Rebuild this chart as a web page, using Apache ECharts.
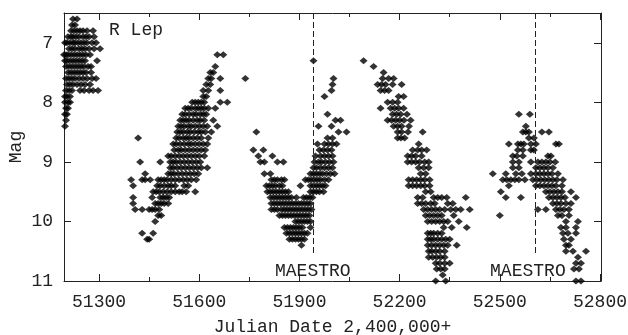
<!DOCTYPE html>
<html>
<head>
<meta charset="utf-8">
<script src="https://cdn.jsdelivr.net/npm/echarts@6/dist/echarts.min.js"></script>
<style>
  html, body { margin: 0; padding: 0; background: #fff; }
  #chart { width: 628px; height: 335px; }
</style>
</head>
<body>
<div id="chart"></div>
<script>
// R Lep light curve, rows of [mag, [julian dates - 2,400,000]]
var cycle1 = [
  [6.6, [51222, 51234]],
  [6.7, [51219, 51228]],
  [6.8, [51216, 51225, 51234, 51243, 51252, 51264, 51282]],
  [6.9, [51207, 51216, 51222, 51231, 51240, 51252, 51261, 51270, 51285]],
  [7.0, [51198, 51204, 51213, 51222, 51228, 51237, 51246, 51255, 51264, 51279, 51291]],
  [7.1, [51210, 51219, 51228, 51240, 51249, 51258, 51270, 51285, 51303]],
  [7.2, [51195, 51201, 51207, 51216, 51225, 51234, 51243, 51252, 51261, 51273]],
  [7.3, [51198, 51204, 51213, 51222, 51231, 51240, 51249, 51258, 51294]],
  [7.4, [51201, 51210, 51219, 51228, 51237, 51246, 51255, 51267, 51276]],
  [7.5, [51207, 51216, 51225, 51234, 51243, 51252, 51261, 51276]],
  [7.6, [51201, 51210, 51219, 51228, 51240, 51252, 51264, 51279, 51291]],
  [7.7, [51204, 51213, 51222, 51234, 51246, 51258, 51273]],
  [7.8, [51201, 51210, 51219, 51243, 51255, 51270, 51282, 51297]],
  [7.9, [51198, 51204, 51213]],
  [8.0, [51198, 51207, 51213]],
  [8.1, [51201, 51207]],
  [8.2, [51198, 51204]],
  [8.3, [51201]],
  [8.4, [51198]]
];

var cycle2 = [
  [7.2, [51654, 51672]],
  [7.4, [51648]],
  [7.5, [51633, 51642]],
  [7.6, [51627, 51636, 51663]],
  [7.7, [51621, 51633]],
  [7.8, [51612, 51627, 51663]],
  [7.9, [51612, 51621]],
  [8.0, [51579, 51588, 51597, 51606, 51615, 51663, 51684]],
  [8.1, [51558, 51567, 51576, 51588, 51597, 51606, 51615, 51627, 51648]],
  [8.2, [51549, 51558, 51570, 51582, 51591, 51603, 51612, 51621]],
  [8.3, [51543, 51552, 51561, 51570, 51582, 51594, 51603, 51615, 51642]],
  [8.4, [51537, 51546, 51555, 51567, 51576, 51588, 51600, 51612, 51624, 51654]],
  [8.5, [51534, 51543, 51552, 51564, 51573, 51585, 51597, 51606, 51618, 51636]],
  [8.6, [51417, 51531, 51540, 51552, 51561, 51570, 51582, 51594, 51606, 51627]],
  [8.7, [51522, 51531, 51543, 51555, 51567, 51576, 51588, 51600, 51612, 51624]],
  [8.8, [51525, 51537, 51546, 51558, 51570, 51582, 51594, 51606, 51618]],
  [8.9, [51507, 51516, 51528, 51540, 51552, 51564, 51576, 51588, 51600, 51615]],
  [9.0, [51423, 51483, 51513, 51522, 51531, 51543, 51555, 51567, 51579, 51591, 51603]],
  [9.1, [51513, 51522, 51534, 51546, 51558, 51570, 51582, 51594, 51606, 51624]],
  [9.2, [51438, 51507, 51516, 51525, 51537, 51549, 51561, 51573, 51585, 51597]],
  [9.3, [51396, 51429, 51438, 51453, 51477, 51486, 51495, 51504, 51516, 51528, 51540, 51552, 51564, 51576, 51591]],
  [9.4, [51402, 51474, 51483, 51495, 51507, 51516, 51528, 51555, 51567]],
  [9.5, [51462, 51471, 51480, 51492, 51504, 51516, 51528, 51540, 51549, 51561, 51588]],
  [9.6, [51402, 51459, 51483, 51492, 51501, 51510]],
  [9.7, [51402, 51468, 51477, 51486, 51495, 51507]],
  [9.8, [51408, 51429, 51450, 51459, 51468, 51480]],
  [9.9, [51477, 51486]],
  [10.0, [51468]],
  [10.2, [51429, 51462]],
  [10.3, [51444, 51450]]
];

var cycle3 = [
  [7.3, [51942]],
  [7.6, [51738, 52002]],
  [7.7, [51999]],
  [7.8, [51996]],
  [7.9, [51975]],
  [8.2, [51984]],
  [8.3, [52008, 52023]],
  [8.4, [51957, 51996]],
  [8.5, [51771, 52017, 52041]],
  [8.6, [51984, 51999]],
  [8.7, [51954, 51975, 51987, 51999, 52011]],
  [8.8, [51762, 51792, 51960, 51972, 51984, 51996]],
  [8.9, [51777, 51819, 51948, 51963, 51975, 51987, 51999]],
  [9.0, [51783, 51795, 51834, 51852, 51945, 51957, 51966, 51978, 51990, 52002]],
  [9.1, [51942, 51951, 51963, 51975, 51987, 51999]],
  [9.2, [51795, 51813, 51933, 51942, 51951, 51960, 51969, 51981, 51993, 52005]],
  [9.3, [51816, 51825, 51834, 51846, 51855, 51918, 51927, 51936, 51945, 51954, 51963, 51975, 51987]],
  [9.4, [51801, 51810, 51819, 51828, 51840, 51849, 51903, 51933, 51942, 51951, 51960, 51969, 51978]],
  [9.5, [51804, 51813, 51822, 51831, 51840, 51849, 51858, 51867, 51933, 51942, 51951, 51960, 51972]],
  [9.6, [51813, 51822, 51831, 51840, 51849, 51858, 51867, 51876, 51891, 51912, 51921, 51930, 51939]],
  [9.7, [51816, 51825, 51834, 51843, 51852, 51861, 51870, 51879, 51888, 51897, 51906, 51915, 51924, 51933]],
  [9.8, [51816, 51825, 51834, 51846, 51855, 51864, 51873, 51882, 51891, 51900, 51909, 51918, 51927, 51936]],
  [9.9, [51840, 51849, 51858, 51867, 51876, 51885, 51894, 51903, 51912, 51921, 51930]],
  [10.0, [51888, 51897, 51906, 51915, 51924, 51933]],
  [10.1, [51855, 51864, 51873, 51882, 51891, 51900, 51909, 51933]],
  [10.2, [51861, 51870, 51879, 51888, 51897, 51906, 51915, 51924]],
  [10.3, [51870, 51879, 51888, 51897, 51906, 51915]],
  [10.4, [51906]]
];

var cycle4 = [
  [7.3, [52092]],
  [7.4, [52122]],
  [7.5, [52152]],
  [7.6, [52149, 52167, 52182]],
  [7.7, [52134, 52146, 52158, 52179, 52206]],
  [7.8, [52143, 52155, 52167]],
  [7.9, [52197, 52212]],
  [8.0, [52164, 52179, 52194]],
  [8.1, [52143, 52173, 52185, 52197, 52212]],
  [8.2, [52179, 52191, 52203, 52222]],
  [8.3, [52164, 52176, 52188, 52200, 52213, 52233]],
  [8.4, [52182, 52194, 52206, 52228]],
  [8.5, [52194, 52206, 52225, 52269]],
  [8.6, [52194, 52204, 52215]],
  [8.7, [52257]],
  [8.8, [52239, 52254, 52266, 52281]],
  [8.9, [52224, 52236, 52248, 52266]],
  [9.0, [52224, 52236, 52248, 52260, 52275, 52287]],
  [9.1, [52257, 52272, 52287]],
  [9.2, [52263, 52278]],
  [9.3, [52227, 52239, 52251, 52263, 52275, 52290]],
  [9.4, [52227, 52239, 52251, 52263, 52275, 52290]],
  [9.5, [52278, 52293]],
  [9.6, [52254, 52269, 52302, 52314, 52326, 52341, 52398]],
  [9.7, [52254, 52266, 52278, 52293, 52305, 52344, 52359]],
  [9.8, [52272, 52284, 52296, 52308, 52320, 52335, 52353, 52368, 52383, 52410]],
  [9.9, [52278, 52290, 52302, 52314, 52326, 52362]],
  [10.0, [52284, 52296, 52308, 52320, 52332, 52344, 52377]],
  [10.1, [52332, 52356, 52401]],
  [10.2, [52284, 52293, 52302, 52314, 52326]],
  [10.3, [52284, 52293, 52302, 52314, 52326, 52338, 52350]],
  [10.4, [52284, 52296, 52308, 52320, 52332, 52344, 52371]],
  [10.5, [52287, 52296, 52308, 52320, 52335]],
  [10.6, [52287, 52299, 52311, 52323, 52335]],
  [10.7, [52308, 52320, 52335, 52350]],
  [10.8, [52311, 52323, 52335]],
  [10.9, [52329]],
  [11.0, [52308, 52338]]
];

var cycle5 = [
  [8.2, [52557, 52590]],
  [8.4, [52578]],
  [8.5, [52569, 52578, 52587, 52626, 52647]],
  [8.6, [52587, 52602]],
  [8.7, [52527, 52554, 52563, 52572, 52593, 52608, 52668, 52677]],
  [8.8, [52554, 52569, 52593, 52602]],
  [8.9, [52539, 52551, 52569, 52644, 52653]],
  [9.0, [52539, 52557, 52593, 52614, 52626, 52638, 52650, 52666]],
  [9.1, [52539, 52557, 52608, 52620, 52632, 52644, 52659]],
  [9.2, [52479, 52518, 52548, 52566, 52593, 52608, 52620, 52632, 52644, 52656, 52674]],
  [9.3, [52509, 52521, 52533, 52545, 52557, 52575, 52599, 52611, 52623, 52635, 52647, 52659, 52671, 52689]],
  [9.4, [52527, 52608, 52620, 52632, 52644, 52656, 52668, 52686]],
  [9.5, [52503, 52638, 52650, 52662, 52674, 52686, 52713]],
  [9.6, [52518, 52563, 52647, 52659, 52671, 52683, 52695, 52728]],
  [9.7, [52659, 52671, 52683, 52698, 52713]],
  [9.8, [52614, 52638, 52668, 52680, 52692, 52707]],
  [9.9, [52500, 52674, 52686, 52707]],
  [10.0, [52698, 52734]],
  [10.1, [52683, 52698, 52728]],
  [10.2, [52689, 52704, 52728]],
  [10.3, [52692, 52713]],
  [10.4, [52698, 52707]],
  [10.5, [52698, 52719, 52758]],
  [10.6, [52734]],
  [10.7, [52728, 52743]],
  [10.8, [52722, 52737]],
  [11.0, [52728, 52743]]
];

var xMajorTicks = [51300, 51600, 51900, 52200, 52500, 52800];
var xMinorTicks = [51450, 51750, 52050, 52350, 52650];
var yTicks = [7, 8, 9, 10, 11];
var maestroDates = [51940, 52605];

var points = [];
[cycle1, cycle2, cycle3, cycle4, cycle5].forEach(function (cyc) {
  cyc.forEach(function (row) {
    row[1].forEach(function (jd) {
      points.push([jd, row[0]]);
    });
  });
});

var FONT = 'Liberation Mono';
var INK = '#222';
var xMin = 51195, xMax = 52803;

function plainNum(v) { return String(v); }

function xAx(pos, ticks, len, showLine, showLabel) {
  return {
    type: 'value',
    position: pos,
    min: xMin,
    max: xMax,
    splitLine: { show: false },
    axisLine: { show: showLine, onZero: false, lineStyle: { color: INK, width: 1 } },
    axisTick: { show: true, inside: true, length: len, customValues: ticks, lineStyle: { color: INK, width: 1 } },
    axisLabel: {
      show: showLabel, customValues: ticks, margin: 12, formatter: plainNum,
      fontFamily: FONT, fontSize: 18, color: INK
    }
  };
}

var xAxes = [
  xAx('bottom', xMajorTicks, 7, true, true),
  xAx('bottom', xMinorTicks, 4, false, false),
  xAx('top', xMajorTicks, 7, true, false),
  xAx('top', xMinorTicks, 4, false, false)
];
xAxes[0].name = 'Julian Date 2,400,000+';
xAxes[0].nameLocation = 'middle';
xAxes[0].nameGap = 37;
xAxes[0].nameTextStyle = { fontFamily: FONT, fontSize: 18, color: INK };

function yAx(pos, showLabel) {
  return {
    type: 'value',
    position: pos,
    min: 6.5,
    max: 11,
    inverse: true,
    splitLine: { show: false },
    axisLine: { show: true, onZero: false, lineStyle: { color: INK, width: 1 } },
    axisTick: { show: true, inside: true, length: 7, customValues: yTicks, lineStyle: { color: INK, width: 1 } },
    axisLabel: {
      show: showLabel, customValues: yTicks, margin: 11, formatter: plainNum,
      fontFamily: FONT, fontSize: 18, color: INK
    }
  };
}

var yAxes = [yAx('left', true), yAx('right', false)];
yAxes[0].name = 'Mag';
yAxes[0].nameLocation = 'middle';
yAxes[0].nameGap = 39;
yAxes[0].nameMoveOverlap = false;
yAxes[0].nameTextStyle = { fontFamily: FONT, fontSize: 18, color: INK };

var chart = echarts.init(document.getElementById('chart'), null, { renderer: 'canvas' });

chart.setOption({
  animation: false,
  backgroundColor: '#fff',
  title: {
    text: 'R Lep',
    left: 104,
    top: 16,
    textStyle: { fontFamily: FONT, fontSize: 18, fontWeight: 'normal', color: INK }
  },
  grid: { left: 64, right: 27, top: 13, bottom: 54, containLabel: false, outerBoundsMode: 'none' },
  xAxis: xAxes,
  yAxis: yAxes,
  series: [{
    type: 'scatter',
    xAxisIndex: 0,
    yAxisIndex: 0,
    symbol: 'diamond',
    symbolSize: [8, 7],
    itemStyle: { color: '#000' },
    data: points,
    markLine: {
      silent: true,
      symbol: 'none',
      lineStyle: { color: INK, type: [6, 3], width: 1 },
      label: {
        show: true,
        position: 'end',
        distance: 8,
        formatter: 'MAESTRO',
        fontFamily: FONT,
        fontSize: 18,
        color: INK
      },
      data: maestroDates.map(function (d, i) {
        // the second label sits a little left of its line in the original
        var start = { coord: [d, 6.5] };
        if (i === 1) start.label = { padding: [0, 14, 0, 0] };
        return [start, { coord: [d, 10.55] }];
      })
    }
  }]
});
</script>
</body>
</html>
